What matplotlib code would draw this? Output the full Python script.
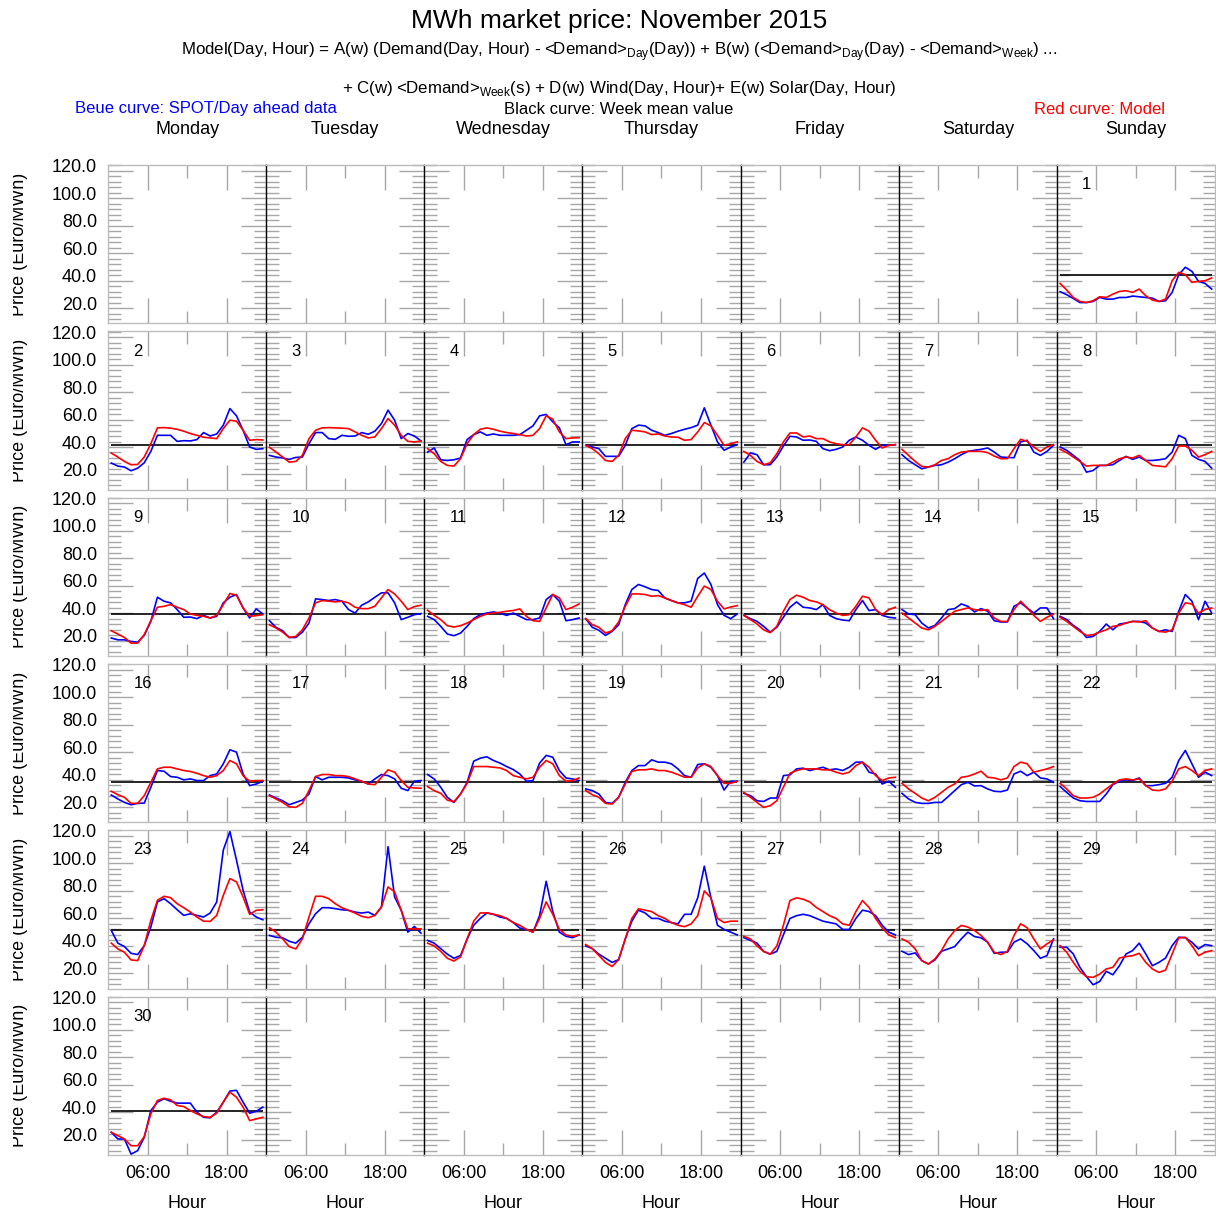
import numpy as np
import matplotlib
matplotlib.use("Agg")
import matplotlib.pyplot as plt
from matplotlib.ticker import FixedLocator, MultipleLocator, FuncFormatter
from matplotlib.transforms import ScaledTranslation, Bbox, TransformedBbox

plt.rcParams['font.family'] = ['Liberation Sans', 'DejaVu Sans']
plt.rcParams['mathtext.fontset'] = 'custom'
plt.rcParams['mathtext.rm'] = 'Liberation Sans'

# hourly values, day of November 2015 -> 24 prices (Euro/MWh)
hours = np.arange(24) + 0.5
weekdays = ['Monday', 'Tuesday', 'Wednesday', 'Thursday', 'Friday', 'Saturday', 'Sunday']
week_mean = [44.4, 41.7, 39.8, 38.5, 51.7, 41.2]

spot = [
    [32.0, 29.8, 27.1, 24.1, 24.1, 24.9, 27.8, 26.6, 26.6, 27.8, 27.8, 28.8, 28.3, 27.8, 27.3, 24.9, 25.4, 31.5, 44.4, 49.8, 46.8, 39.5, 38.0, 33.9],
    [28.3, 26.1, 25.4, 22.7, 24.6, 28.5, 36.8, 48.5, 48.5, 48.5, 44.1, 44.6, 44.4, 45.4, 50.5, 48.0, 49.5, 55.9, 68.0, 62.7, 52.2, 40.0, 38.3, 38.8],
    [33.9, 32.7, 32.0, 31.0, 32.4, 32.7, 42.4, 50.5, 50.5, 46.1, 45.6, 48.5, 47.8, 48.0, 50.5, 49.3, 51.5, 57.1, 66.8, 59.5, 46.1, 49.8, 48.0, 44.4],
    [36.3, 39.3, 30.7, 30.2, 30.7, 32.0, 45.4, 49.0, 51.0, 48.5, 49.5, 48.5, 48.5, 48.5, 49.0, 52.2, 55.4, 62.7, 63.7, 58.3, 53.9, 41.7, 43.7, 43.7],
    [41.2, 40.0, 38.8, 33.2, 33.2, 33.2, 41.2, 53.4, 55.9, 55.4, 52.2, 50.5, 48.5, 49.8, 51.5, 52.9, 54.1, 55.9, 68.5, 55.9, 43.7, 37.6, 40.0, 41.7],
    [29.0, 35.6, 34.4, 27.1, 27.1, 32.7, 40.7, 47.8, 47.3, 44.9, 45.1, 44.1, 38.8, 37.3, 38.3, 40.0, 44.9, 47.3, 44.9, 41.2, 38.3, 41.2, 41.2, 41.7],
    [34.4, 30.2, 27.1, 24.1, 25.4, 26.6, 27.1, 29.0, 31.5, 34.4, 36.8, 37.6, 38.3, 39.3, 36.3, 32.7, 32.4, 32.2, 43.7, 44.9, 36.3, 33.9, 36.8, 41.2],
    [40.0, 37.6, 33.9, 30.2, 21.7, 22.9, 26.6, 26.6, 27.1, 30.2, 33.2, 31.0, 32.7, 30.2, 30.2, 30.7, 31.5, 36.3, 48.5, 46.1, 33.9, 31.0, 29.5, 24.6],
    [22.0, 20.7, 20.7, 19.5, 19.0, 23.9, 34.1, 51.7, 48.8, 47.6, 42.7, 37.1, 37.3, 36.1, 38.5, 36.6, 37.8, 47.6, 51.7, 53.7, 43.9, 36.6, 43.2, 39.5],
    [34.6, 29.8, 27.3, 22.4, 22.4, 26.3, 32.9, 50.5, 50.0, 49.3, 50.0, 48.8, 42.7, 40.2, 45.9, 48.3, 51.7, 54.9, 54.9, 47.6, 35.4, 37.1, 39.0, 39.8],
    [37.8, 35.4, 30.5, 24.9, 23.7, 25.6, 30.5, 36.1, 39.0, 40.2, 41.0, 40.0, 38.5, 40.2, 37.8, 35.4, 35.4, 36.6, 50.0, 53.7, 48.8, 34.6, 35.4, 36.6],
    [36.1, 29.8, 27.6, 23.9, 26.8, 31.7, 46.3, 57.3, 61.0, 59.3, 57.3, 56.6, 51.2, 49.3, 47.6, 47.6, 48.8, 65.4, 69.3, 61.0, 46.3, 38.5, 36.1, 39.5],
    [38.5, 36.1, 34.1, 30.5, 26.3, 29.8, 37.1, 44.4, 48.3, 44.4, 43.9, 42.7, 46.3, 38.5, 36.1, 35.1, 34.6, 42.7, 49.3, 42.0, 42.7, 38.5, 37.1, 36.6],
    [42.7, 39.5, 39.0, 32.9, 29.3, 31.2, 36.6, 42.7, 43.4, 46.8, 45.1, 41.0, 43.4, 41.5, 34.6, 33.7, 33.7, 45.1, 47.6, 43.9, 40.2, 43.9, 43.9, 36.1],
    [37.8, 35.4, 31.2, 28.0, 22.4, 23.2, 26.8, 32.2, 28.0, 32.2, 32.9, 34.1, 34.1, 32.9, 29.3, 26.8, 28.0, 26.8, 41.5, 53.7, 48.8, 35.4, 48.8, 40.2],
    [28.8, 25.9, 23.4, 21.7, 22.7, 22.9, 34.4, 46.6, 46.1, 42.2, 41.7, 39.8, 40.5, 39.3, 39.3, 42.9, 44.1, 51.5, 61.7, 60.0, 44.1, 35.6, 36.8, 38.8],
    [28.8, 26.6, 24.6, 21.7, 23.4, 25.1, 29.5, 42.2, 39.8, 41.7, 41.7, 41.7, 41.2, 39.8, 38.8, 36.8, 40.5, 43.7, 42.9, 40.5, 33.7, 32.0, 38.8, 39.3],
    [43.7, 40.5, 34.4, 27.1, 23.4, 29.5, 38.0, 53.4, 55.6, 56.6, 53.9, 52.0, 49.5, 47.3, 44.1, 38.8, 39.3, 52.0, 57.6, 56.3, 46.6, 41.2, 40.5, 39.3],
    [33.2, 32.0, 29.5, 23.4, 22.7, 27.1, 38.0, 46.6, 50.2, 50.2, 54.4, 52.7, 52.7, 51.5, 47.8, 42.9, 41.7, 51.0, 51.5, 49.0, 42.9, 32.4, 38.8, 38.8],
    [30.0, 28.3, 24.6, 24.1, 26.6, 26.6, 42.9, 43.4, 47.8, 48.3, 46.6, 47.8, 49.0, 47.1, 47.8, 46.6, 49.0, 52.7, 52.7, 45.4, 44.1, 36.8, 38.8, 34.4],
    [30.0, 25.9, 23.4, 22.7, 22.7, 23.4, 23.4, 27.6, 32.0, 36.3, 38.0, 35.4, 35.6, 33.2, 31.5, 31.2, 32.4, 44.1, 46.1, 42.9, 45.4, 41.2, 40.5, 38.0],
    [34.9, 30.7, 26.6, 24.6, 24.1, 24.1, 24.1, 29.5, 36.3, 38.8, 39.8, 39.3, 41.2, 35.6, 35.6, 36.3, 37.3, 41.7, 53.9, 61.2, 51.5, 41.7, 45.4, 42.9],
    [51.2, 42.0, 39.5, 34.6, 33.7, 40.2, 53.7, 72.0, 74.4, 70.7, 66.3, 62.2, 63.4, 62.2, 61.0, 63.9, 72.0, 109.8, 123.2, 102.4, 80.5, 64.6, 61.0, 59.0],
    [47.6, 46.3, 45.9, 43.4, 42.0, 46.3, 56.1, 63.4, 67.8, 67.8, 67.1, 66.3, 65.9, 64.6, 63.9, 64.6, 62.2, 68.3, 112.2, 75.6, 65.9, 50.0, 54.1, 49.3],
    [44.0, 42.0, 38.0, 34.0, 31.0, 33.0, 45.0, 55.0, 60.0, 64.0, 63.0, 61.0, 60.0, 57.0, 53.0, 52.0, 50.0, 62.0, 87.0, 65.0, 50.0, 47.0, 46.0, 48.0],
    [40.0, 38.0, 34.0, 31.0, 28.0, 30.0, 45.0, 58.0, 66.0, 64.0, 60.0, 60.0, 58.0, 57.0, 56.0, 63.0, 63.0, 75.0, 98.0, 75.0, 55.0, 52.0, 50.0, 48.0],
    [46.0, 44.0, 42.0, 36.0, 34.0, 36.0, 48.0, 60.0, 62.0, 63.0, 62.0, 60.0, 58.0, 57.0, 56.0, 52.0, 52.0, 60.0, 66.0, 65.0, 62.0, 55.0, 50.0, 48.0],
    [36.1, 33.7, 34.9, 29.3, 26.8, 29.8, 36.1, 37.8, 39.5, 45.1, 50.0, 46.8, 45.9, 42.7, 34.6, 35.4, 35.4, 42.7, 45.1, 41.5, 36.6, 31.0, 32.9, 45.1],
    [39.0, 39.0, 34.1, 24.4, 17.6, 11.7, 14.1, 21.5, 19.0, 25.6, 34.1, 36.6, 42.0, 34.1, 25.6, 28.0, 31.2, 40.2, 46.3, 45.9, 42.7, 37.8, 41.0, 40.2],
    [25.4, 20.5, 20.5, 9.5, 12.0, 21.7, 41.2, 47.3, 49.8, 48.0, 46.6, 46.6, 46.6, 40.0, 36.3, 35.9, 40.0, 47.3, 55.4, 55.9, 47.3, 39.3, 40.7, 43.7],
]

model = [
    [38.0, 33.2, 27.8, 24.9, 24.1, 25.4, 28.3, 27.8, 30.2, 32.2, 32.7, 31.5, 33.9, 29.0, 25.9, 24.9, 26.6, 40.0, 46.1, 44.4, 38.8, 39.5, 40.0, 42.0],
    [35.6, 32.7, 29.5, 27.1, 27.3, 32.7, 42.4, 53.9, 54.1, 53.7, 52.9, 51.5, 49.8, 48.5, 47.1, 46.6, 46.1, 53.4, 59.5, 58.8, 52.2, 44.9, 45.4, 45.1],
    [39.8, 36.3, 32.7, 29.0, 29.5, 33.9, 46.1, 52.2, 53.9, 54.1, 53.9, 53.7, 53.4, 51.0, 48.5, 46.6, 47.3, 53.4, 60.7, 55.9, 48.5, 44.1, 43.7, 44.4],
    [38.8, 35.1, 29.5, 26.6, 26.1, 31.5, 42.4, 49.0, 52.9, 53.9, 52.9, 51.5, 50.5, 49.8, 49.0, 48.0, 48.5, 53.4, 62.7, 60.2, 51.0, 46.1, 46.6, 46.8],
    [41.2, 38.8, 35.1, 30.2, 29.5, 33.9, 46.1, 52.2, 51.7, 51.0, 49.0, 49.5, 48.0, 47.3, 47.1, 44.9, 45.4, 51.0, 57.8, 55.4, 48.5, 41.2, 42.4, 43.7],
    [36.8, 33.9, 29.5, 27.1, 28.5, 35.1, 43.7, 50.2, 50.2, 47.3, 48.0, 46.1, 46.1, 43.7, 42.4, 41.7, 41.7, 47.3, 53.9, 51.5, 44.9, 39.3, 41.2, 41.7],
    [38.3, 33.9, 29.5, 25.9, 25.4, 27.1, 30.2, 31.5, 34.4, 36.3, 36.8, 36.8, 36.8, 35.9, 33.4, 31.5, 31.5, 38.8, 45.6, 44.1, 40.0, 36.8, 40.0, 41.7],
    [38.3, 35.9, 32.7, 29.5, 26.1, 26.6, 26.6, 26.6, 29.0, 31.5, 32.7, 32.0, 33.9, 30.2, 26.6, 26.1, 25.6, 31.5, 40.7, 40.7, 37.6, 32.7, 34.4, 36.8],
    [27.3, 24.9, 22.4, 18.3, 18.3, 24.4, 34.6, 44.4, 45.1, 46.3, 44.4, 42.7, 39.5, 38.5, 37.8, 36.6, 38.5, 46.3, 54.4, 53.2, 43.9, 37.8, 38.3, 39.0],
    [31.7, 29.3, 26.3, 22.4, 23.2, 28.0, 36.6, 47.6, 49.3, 48.8, 48.3, 48.8, 47.6, 44.4, 43.4, 43.4, 45.1, 51.2, 57.3, 54.1, 48.8, 42.7, 44.9, 45.9],
    [42.2, 38.5, 35.4, 31.0, 30.0, 31.0, 32.9, 35.4, 37.8, 39.5, 40.2, 40.7, 41.5, 42.0, 43.2, 37.8, 34.6, 34.1, 43.9, 53.7, 51.2, 42.7, 44.4, 46.8],
    [36.1, 31.7, 29.8, 25.6, 27.3, 33.7, 45.1, 54.1, 54.1, 53.7, 52.4, 52.9, 51.2, 49.3, 47.6, 46.3, 44.4, 52.4, 59.8, 57.3, 48.8, 43.2, 44.6, 45.6],
    [38.5, 35.4, 32.2, 28.0, 25.9, 30.5, 41.5, 50.0, 53.2, 51.7, 49.3, 48.3, 46.3, 42.7, 40.2, 38.5, 39.0, 45.1, 52.4, 51.2, 42.7, 39.0, 42.7, 44.4],
    [40.2, 36.6, 32.9, 29.3, 28.0, 30.5, 34.1, 37.8, 41.5, 42.7, 43.9, 42.7, 42.0, 42.7, 36.6, 34.1, 34.1, 42.7, 48.8, 43.9, 38.5, 34.1, 37.1, 39.5],
    [37.1, 34.1, 30.5, 26.8, 23.9, 24.4, 26.3, 28.0, 30.5, 31.2, 32.9, 34.1, 33.7, 34.6, 29.3, 26.8, 26.3, 28.0, 40.2, 47.6, 46.8, 40.2, 42.7, 43.9],
    [31.5, 29.0, 27.1, 22.7, 22.7, 28.3, 38.0, 47.8, 49.0, 49.0, 47.8, 46.6, 45.9, 44.6, 42.9, 41.7, 42.9, 46.6, 53.9, 51.5, 42.9, 38.8, 39.3, 39.3],
    [28.3, 25.9, 23.4, 20.2, 19.8, 22.7, 32.0, 42.2, 43.7, 43.7, 42.9, 42.9, 42.2, 40.5, 38.8, 36.8, 36.3, 41.7, 47.1, 45.4, 39.3, 34.4, 33.9, 33.7],
    [34.9, 32.0, 30.0, 25.1, 23.9, 29.5, 37.3, 49.5, 49.5, 49.5, 49.0, 48.5, 46.6, 42.9, 41.7, 40.5, 41.7, 49.0, 53.9, 51.5, 42.9, 38.8, 39.3, 41.2],
    [32.0, 29.0, 27.1, 22.7, 22.2, 27.1, 36.8, 45.9, 47.1, 47.1, 47.8, 46.6, 46.6, 45.4, 43.7, 41.7, 41.7, 48.5, 51.5, 49.5, 42.9, 37.3, 37.3, 38.8],
    [30.7, 27.1, 23.4, 19.8, 21.0, 24.6, 34.4, 44.6, 46.6, 47.8, 47.8, 47.8, 47.1, 47.1, 45.4, 44.1, 45.4, 50.2, 52.7, 49.0, 42.9, 39.3, 41.2, 41.7],
    [37.3, 33.2, 30.0, 26.6, 24.6, 27.1, 30.7, 34.4, 36.8, 41.7, 42.4, 44.1, 46.1, 41.7, 41.2, 39.8, 41.2, 49.5, 52.7, 51.5, 45.4, 46.6, 47.8, 49.5],
    [37.3, 33.2, 28.3, 26.6, 26.6, 27.1, 29.5, 33.2, 36.8, 39.8, 40.5, 39.8, 40.5, 35.6, 32.4, 32.0, 33.2, 38.8, 47.8, 49.5, 46.6, 42.9, 46.6, 47.8],
    [42.0, 37.8, 35.4, 29.8, 29.3, 40.2, 58.5, 73.2, 76.1, 75.1, 70.7, 67.8, 64.6, 61.0, 58.0, 57.8, 62.2, 76.8, 89.0, 86.6, 75.6, 62.9, 65.9, 66.3],
    [53.2, 50.0, 45.1, 39.5, 37.8, 45.1, 61.0, 76.1, 76.1, 74.4, 70.7, 67.8, 65.9, 63.9, 61.5, 60.5, 62.2, 68.3, 82.9, 79.3, 65.9, 52.4, 52.4, 52.4],
    [42.0, 40.0, 36.0, 31.0, 29.0, 32.0, 45.0, 58.0, 64.0, 64.0, 63.0, 62.0, 60.0, 57.0, 55.0, 52.0, 50.0, 60.0, 72.0, 63.0, 52.0, 48.0, 47.0, 48.0],
    [41.0, 38.0, 33.0, 28.0, 25.0, 30.0, 45.0, 60.0, 67.0, 66.0, 65.0, 62.0, 60.0, 57.0, 55.0, 54.0, 56.0, 62.0, 80.0, 75.0, 60.0, 57.0, 58.0, 58.0],
    [47.0, 45.0, 40.0, 36.0, 34.0, 40.0, 55.0, 73.0, 75.0, 74.0, 72.0, 68.0, 65.0, 62.0, 60.0, 56.0, 55.0, 65.0, 73.0, 68.0, 60.0, 53.0, 48.0, 46.0],
    [45.1, 42.7, 37.8, 29.3, 26.8, 30.5, 36.6, 45.1, 51.2, 54.9, 53.7, 51.2, 47.6, 42.7, 35.4, 33.7, 36.1, 47.6, 56.1, 53.2, 45.1, 37.8, 41.5, 44.4],
    [40.2, 35.4, 28.0, 21.5, 17.6, 17.1, 19.5, 23.2, 24.4, 31.2, 32.2, 32.9, 34.6, 28.0, 23.2, 20.7, 22.4, 34.1, 45.9, 46.3, 40.2, 32.9, 35.4, 36.6],
    [25.4, 22.9, 20.5, 15.6, 15.6, 22.2, 38.8, 48.5, 50.2, 49.0, 44.9, 44.1, 41.2, 38.8, 36.8, 36.3, 39.3, 47.3, 54.6, 50.9, 43.7, 33.9, 35.1, 36.3],
]

W, H = 1216, 1213
fig = plt.figure(figsize=(W / 100, H / 100), dpi=100)

left_px, top_px = 108, 165
col_w, row_h, row_step = 158.14, 158.3, 166.3
ncols, nrows = 7, 6
first_col = 6  # 1 November 2015 was a Sunday
tick_gray = '#a8a8a8'
up_shift = ScaledTranslation(0, 0.05, fig.dpi_scale_trans)

axes = {}
for r in range(nrows):
    for c in range(ncols):
        x0 = (left_px + c * col_w) / W
        y0 = 1 - (top_px + r * row_step + row_h) / H
        ax = fig.add_axes([x0, y0, col_w / W, row_h / H])
        ax.set_xlim(0, 24)
        ax.set_ylim(9, 124.2)
        ax.xaxis.set_major_locator(FixedLocator([6, 18]))
        ax.xaxis.set_minor_locator(FixedLocator([12]))
        ax.yaxis.set_major_locator(MultipleLocator(20))
        ax.yaxis.set_minor_locator(MultipleLocator(4))
        ax.tick_params(which='both', direction='in', top=True, right=True,
                       color=tick_gray, width=1)
        ax.tick_params(which='major', length=18)
        ax.tick_params(which='minor', length=9)
        for s in ax.spines.values():
            s.set_color('#bdbdbd')
            s.set_linewidth(1)
        if c > 0:
            ax.spines['left'].set_color('black')
        if c == 0:
            ax.yaxis.set_major_formatter(FuncFormatter(lambda v, p: f'{v:.1f}'))
            ax.tick_params(axis='y', labelsize=13, pad=8)
            for lab in ax.get_yticklabels():
                lab.set_transform(lab.get_transform() + up_shift)
        else:
            ax.set_yticklabels([])
        if r == nrows - 1:
            ax.xaxis.set_major_formatter(FuncFormatter(lambda v, p: f'{int(v):02d}:00'))
            ax.tick_params(axis='x', labelsize=13, pad=7)
            ax.set_xlabel('Hour', fontsize=13, labelpad=10)
        else:
            ax.set_xticklabels([])
        axes[(r, c)] = ax

for d in range(30):
    idx = d + first_col
    r, c = divmod(idx, 7)
    ax = axes[(r, c)]
    ax.hlines(week_mean[r], hours[0], hours[-1], color='black', lw=1.2, zorder=2)
    ax.plot(hours, spot[d], color='#0000ff', lw=1.2, zorder=3)
    ax.plot(hours, model[d], color='#ff0000', lw=1.2, zorder=4)
    ax.text(0.16, 0.875, str(d + 1), transform=ax.transAxes, fontsize=12,
            ha='left', va='center')

# clipped y labels, one per row
for r in range(nrows):
    yt = top_px + r * row_step
    yc = 1 - (yt + row_h / 2) / H
    t = fig.text(20 / W, yc, 'Price (Euro/MWh)', rotation=90, fontsize=13,
                 ha='center', va='center')
    clip = TransformedBbox(Bbox([[13 / W, 1 - (yt + row_h - 4) / H], [40 / W, 1 - (yt + 6) / H]]),
                           fig.transFigure)
    t.set_clip_box(clip)
    t.set_clip_on(True)

fig.text(619 / W, 1 - 21 / H, 'MWh market price: November 2015', fontsize=19,
         ha='center', va='center')
fig.text(619 / W, 1 - 52 / H,
         r'Model(Day, Hour) = A(w) (Demand(Day, Hour) - <Demand>$_{\rm Day}$(Day)) + '
         r'B(w) (<Demand>$_{\rm Day}$(Day) - <Demand>$_{\rm Week}$) ...',
         fontsize=12.2, ha='center', va='center')
fig.text(619 / W, 1 - 89 / H,
         r'+ C(w) <Demand>$_{\rm Week}$(s) + D(w) Wind(Day, Hour)+ E(w) Solar(Day, Hour)',
         fontsize=12.2, ha='center', va='center')
fig.text(75 / W, 1 - 109 / H, 'Beue curve: SPOT/Day ahead data', color='#0000ff',
         fontsize=12, ha='left', va='center')
fig.text(619 / W, 1 - 109 / H, 'Black curve: Week mean value', color='black',
         fontsize=12, ha='center', va='center')
fig.text(1165 / W, 1 - 109 / H, 'Red curve: Model', color='#ff0000',
         fontsize=12, ha='right', va='center')
for c, name in enumerate(weekdays):
    fig.text((left_px + (c + 0.5) * col_w) / W, 1 - 130 / H, name, fontsize=13,
             ha='center', va='center')

fig.savefig('out.png', dpi=100)
